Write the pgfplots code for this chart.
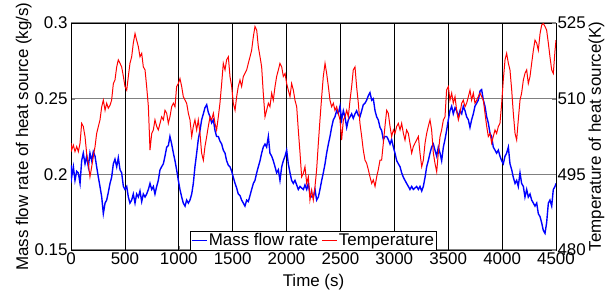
\documentclass[border=0pt]{standalone}
\usepackage{fontspec}
\setmainfont{Liberation Sans}
\usepackage{pgfplots}
\usepackage{pgfplotstable}
\pgfplotsset{compat=1.18}

\pgfplotstableread{
t v
0 0.206
6 0.198
22 0.205
37 0.196
53 0.202
68 0.201
84 0.194
99 0.209
114 0.214
130 0.207
145 0.212
161 0.205
176 0.214
192 0.209
207 0.215
223 0.212
238 0.205
254 0.198
269 0.192
285 0.185
300 0.174
316 0.181
331 0.183
346 0.188
362 0.194
377 0.198
393 0.207
408 0.210
424 0.205
439 0.211
455 0.203
470 0.201
486 0.192
501 0.190
517 0.192
532 0.185
547 0.181
563 0.183
578 0.187
594 0.181
609 0.187
625 0.185
640 0.189
656 0.182
671 0.187
687 0.185
702 0.187
718 0.190
733 0.194
749 0.190
764 0.192
779 0.187
795 0.192
810 0.196
826 0.203
841 0.205
857 0.207
872 0.212
888 0.218
903 0.219
918 0.225
934 0.220
950 0.214
965 0.209
980 0.203
996 0.196
1011 0.190
1027 0.185
1042 0.181
1058 0.179
1073 0.183
1089 0.181
1104 0.183
1120 0.187
1135 0.194
1150 0.205
1166 0.214
1181 0.223
1197 0.229
1212 0.236
1228 0.240
1243 0.244
1259 0.246
1274 0.241
1290 0.238
1305 0.234
1321 0.236
1336 0.229
1351 0.225
1367 0.225
1382 0.222
1398 0.220
1413 0.216
1429 0.214
1444 0.209
1460 0.206
1475 0.205
1491 0.202
1506 0.198
1522 0.194
1537 0.191
1552 0.187
1568 0.186
1583 0.183
1599 0.181
1614 0.179
1630 0.183
1645 0.182
1661 0.186
1676 0.190
1692 0.194
1707 0.196
1723 0.201
1738 0.205
1754 0.209
1769 0.214
1784 0.218
1800 0.220
1815 0.218
1831 0.225
1846 0.214
1862 0.212
1877 0.209
1893 0.205
1908 0.201
1924 0.203
1939 0.196
1955 0.205
1970 0.209
1986 0.212
2001 0.216
2016 0.207
2032 0.201
2047 0.196
2063 0.194
2078 0.196
2094 0.193
2109 0.190
2125 0.192
2140 0.191
2156 0.190
2171 0.193
2187 0.190
2202 0.194
2217 0.187
2233 0.185
2248 0.185
2264 0.190
2279 0.183
2295 0.185
2310 0.190
2326 0.196
2341 0.201
2357 0.207
2372 0.214
2388 0.220
2403 0.225
2418 0.231
2434 0.236
2449 0.238
2465 0.242
2480 0.240
2496 0.245
2511 0.236
2527 0.242
2542 0.238
2558 0.231
2573 0.236
2589 0.238
2604 0.240
2619 0.237
2635 0.240
2650 0.242
2666 0.239
2681 0.238
2697 0.242
2712 0.246
2728 0.247
2743 0.249
2759 0.252
2774 0.254
2790 0.249
2805 0.250
2821 0.242
2836 0.238
2851 0.236
2867 0.231
2882 0.229
2898 0.223
2913 0.225
2929 0.225
2944 0.223
2960 0.220
2975 0.223
2991 0.218
3006 0.214
3022 0.209
3037 0.207
3053 0.205
3068 0.201
3084 0.198
3099 0.196
3114 0.194
3130 0.192
3145 0.190
3161 0.192
3176 0.190
3192 0.191
3207 0.192
3223 0.190
3238 0.192
3254 0.189
3269 0.192
3285 0.198
3300 0.205
3315 0.209
3331 0.214
3346 0.218
3362 0.220
3377 0.216
3393 0.212
3408 0.218
3424 0.214
3439 0.209
3455 0.218
3470 0.223
3485 0.229
3501 0.236
3516 0.242
3532 0.245
3547 0.240
3563 0.244
3578 0.242
3594 0.238
3609 0.242
3625 0.240
3640 0.245
3656 0.242
3671 0.238
3687 0.236
3702 0.231
3717 0.236
3733 0.240
3748 0.245
3764 0.247
3779 0.249
3795 0.255
3810 0.256
3826 0.249
3841 0.245
3857 0.238
3872 0.234
3888 0.227
3903 0.225
3918 0.218
3934 0.216
3949 0.214
3965 0.216
3980 0.212
3996 0.209
4011 0.207
4027 0.212
4042 0.214
4058 0.218
4073 0.207
4089 0.203
4104 0.198
4120 0.194
4135 0.196
4150 0.192
4166 0.201
4181 0.194
4197 0.192
4212 0.185
4228 0.190
4243 0.185
4259 0.187
4274 0.183
4290 0.181
4305 0.179
4321 0.181
4336 0.174
4352 0.172
4367 0.168
4382 0.163
4398 0.161
4413 0.168
4429 0.181
4444 0.183
4460 0.179
4475 0.190
4491 0.192
4500 0.194
}\massflow

\pgfplotstableread{
t T
0 501.2
6 499.8
22 500.8
37 499.5
53 500.5
68 499.5
84 501.2
99 505.1
114 504.5
130 502.5
145 499.2
161 497.2
176 494.5
192 496.5
207 498.5
223 500.5
238 503.1
254 504.5
269 505.8
285 508.4
300 509.7
316 507.7
331 509.1
346 508.1
362 508.7
377 509.7
393 513.0
408 513.7
424 516.3
439 517.7
455 517.0
470 516.3
486 514.4
501 512.4
517 511.7
532 514.4
547 517.0
563 518.3
578 521.0
594 522.9
609 521.6
625 520.3
640 518.3
656 519.0
671 516.3
687 515.7
702 512.4
718 508.4
733 499.8
749 503.1
764 503.8
779 505.8
795 504.5
810 503.8
826 505.1
841 506.4
857 505.8
872 507.7
888 507.1
903 505.1
918 506.4
934 508.4
950 509.1
965 508.4
980 512.4
996 513.0
1011 514.0
1027 512.4
1042 510.4
1058 509.7
1073 509.1
1089 507.1
1104 505.8
1120 502.5
1135 504.5
1150 505.8
1166 503.8
1181 505.8
1197 503.1
1212 499.2
1228 497.8
1243 500.5
1259 502.5
1274 504.5
1290 506.4
1305 505.8
1321 507.1
1336 505.1
1351 503.8
1367 506.4
1382 509.1
1398 513.0
1413 517.0
1429 515.7
1444 517.7
1460 518.3
1475 514.4
1491 512.4
1506 509.1
1522 507.7
1537 510.4
1552 512.4
1568 513.7
1583 512.4
1599 514.4
1614 515.0
1630 515.7
1645 517.0
1661 518.3
1676 519.6
1692 522.3
1707 524.3
1723 523.6
1738 520.3
1754 518.3
1769 516.3
1784 511.1
1800 506.4
1815 507.7
1831 509.1
1846 508.4
1862 511.1
1877 509.7
1893 512.4
1908 514.4
1924 515.7
1939 517.0
1955 516.3
1970 514.4
1986 515.0
2001 513.0
2016 511.7
2032 510.4
2047 513.0
2063 511.7
2078 509.7
2094 508.4
2109 503.8
2125 499.2
2140 494.5
2156 495.2
2171 496.5
2187 493.2
2202 494.5
2217 489.9
2233 491.9
2248 489.9
2264 492.6
2279 495.9
2295 501.2
2310 505.8
2326 510.4
2341 514.4
2357 517.0
2372 515.0
2388 512.4
2403 509.7
2418 508.4
2434 509.1
2449 507.7
2465 508.4
2480 507.1
2496 505.8
2511 501.8
2527 505.8
2542 506.4
2558 507.7
2573 506.4
2589 509.7
2604 512.4
2619 515.7
2635 516.3
2650 512.4
2666 509.1
2681 505.1
2697 502.5
2712 499.8
2728 497.8
2743 497.2
2759 495.9
2774 494.5
2790 493.2
2805 493.9
2821 492.6
2836 494.5
2851 495.9
2867 497.8
2882 497.8
2898 501.2
2913 504.5
2929 507.7
2944 507.1
2960 504.5
2975 502.5
2991 503.8
3006 503.1
3022 504.5
3037 505.1
3053 503.8
3068 505.1
3084 503.1
3099 501.8
3114 503.8
3130 503.1
3145 501.2
3161 499.2
3176 500.5
3192 501.2
3207 501.8
3223 502.5
3238 499.2
3254 496.5
3269 497.8
3285 501.2
3300 503.1
3315 504.5
3331 505.8
3346 503.8
3362 499.2
3377 497.2
3393 495.5
3408 499.2
3424 502.5
3439 503.8
3455 505.8
3470 506.4
3485 511.7
3501 512.4
3516 509.7
3532 511.1
3547 509.1
3563 510.4
3578 507.7
3594 505.8
3609 507.1
3625 509.1
3640 509.7
3656 508.4
3671 509.1
3687 510.4
3702 511.7
3717 509.7
3733 511.1
3748 509.1
3764 509.7
3779 510.4
3795 511.1
3810 510.4
3826 509.7
3841 507.1
3857 504.5
3872 502.5
3888 503.1
3903 501.2
3918 502.5
3934 503.8
3949 503.1
3965 504.5
3980 505.1
3996 509.1
4011 513.7
4027 517.7
4042 519.0
4058 517.0
4073 515.7
4089 511.7
4104 507.1
4120 503.1
4135 501.8
4150 505.8
4166 509.7
4181 511.1
4197 513.7
4212 515.0
4228 515.7
4243 513.0
4259 514.4
4274 517.0
4290 519.6
4305 521.6
4321 521.0
4336 519.6
4352 522.9
4367 524.6
4382 524.9
4398 524.3
4413 523.6
4429 521.0
4444 518.3
4460 515.7
4475 515.0
4491 519.6
4500 521.6
}\temperature

\pgfplotsset{
  every axis/.append style={
    width=485bp, height=227bp, scale only axis,
    /pgf/number format/assume math mode=true,
    /pgf/number format/set thousands separator={},
    tick label style={font=\fontsize{17}{17}\selectfont},
    label style={font=\fontsize{17}{17}\selectfont},
    tick align=inside,
    major tick length=4bp,
    axis line style={black, line width=0.8pt},
    xmin=0, xmax=4500,
  }
}

\begin{document}
\begin{tikzpicture}
\begin{axis}[
  name=main,
  ymin=0.15, ymax=0.3,
  xtick={0,500,...,4500},
  ytick={0.15,0.2,0.25,0.3},
  yticklabels={0.15,0.2,0.25,0.3},
  ytick pos=left,
  xtick pos=bottom,
  ymajorgrids,
  grid style={black!50, line width=1.6pt},
  major grid style={black!50, line width=1.6pt},
  extra x ticks={500,1000,1500,2000,2500,3000,3500,4000},
  extra x tick labels={},
  extra x tick style={grid=major, major tick length=0pt,
    grid style={black, line width=0.6pt},
    major grid style={black, line width=0.6pt}},
  xlabel={Time (s)},
  ylabel={Mass flow rate of heat source (kg/s)},
  xlabel style={yshift=-3bp},
  ylabel style={yshift=-4bp},
  xticklabel style={yshift=1bp},
]
\addplot[blue, line width=1.4pt] table[x=t, y=v] {\massflow};
\end{axis}
\begin{axis}[
  ymin=480, ymax=525,
  ytick={480,495,510,525},
  axis x line=none,
  axis y line*=right,
  ylabel={Temperature of heat source(K)},
  ylabel style={yshift=4bp},
  yticklabel style={xshift=-2bp},
  legend columns=2,
  legend style={at={(0.5,0)}, anchor=south, draw=black, fill=white,
    font=\fontsize{17}{17}\selectfont, inner sep=1pt,
    nodes={inner sep=1.5pt},
    /tikz/every even column/.append style={column sep=2pt}},
  legend image code/.code={\draw[#1] (0bp,0bp) -- (15bp,0bp);},
]
\addlegendimage{blue, line width=0.8pt}
\addlegendentry{Mass flow rate}
\addplot[red, line width=1pt] table[x=t, y=T] {\temperature};
\addlegendentry{Temperature}
\end{axis}
\pgfresetboundingbox
\path (main.south west) ++(-71bp,-43bp) rectangle ++(616bp,293bp);
\end{tikzpicture}
\end{document}
